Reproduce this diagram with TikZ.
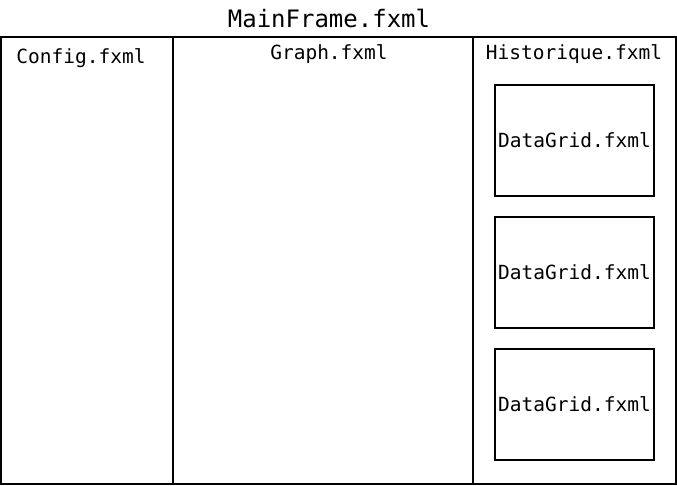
\documentclass[tikz,border=0pt]{standalone}
\usepackage{fontspec}
\setmonofont{DejaVu Sans Mono}
\begin{document}
\begin{tikzpicture}[x=1pt,y=-1pt,
  frame/.style={draw=black, line width=2pt, inner sep=0pt, outer sep=0pt},
  lbl/.style={font=\ttfamily\fontsize{19.5}{22}\selectfont, inner sep=0pt, anchor=center},
  big/.style={font=\ttfamily\fontsize{24}{28}\selectfont, inner sep=0pt, anchor=center}]
\useasboundingbox (0,0) rectangle (677,485);
% columns
\node[frame, minimum width=172pt, minimum height=447pt] (config) at (87,260.5) {};
\node[frame, minimum width=300pt, minimum height=447pt] (graph) at (323,260.5) {};
\node[frame, minimum width=203pt, minimum height=447pt] (hist) at (574.5,260.5) {};
% data grids
\node[frame, minimum width=159pt, minimum height=111pt] (dg1) at (574.5,140.5) {};
\node[frame, minimum width=159pt, minimum height=111pt] (dg2) at (574.5,272.5) {};
\node[frame, minimum width=159pt, minimum height=111pt] (dg3) at (574.5,404.5) {};
% labels
\node[big] (title) at (329,18) {MainFrame.fxml};
\node[lbl] (tconfig) at (81,58) {Config.fxml};
\node[lbl] (tgraph) at (329,54) {Graph.fxml};
\node[lbl] (thist) at (574,54) {Historique.fxml};
\node[lbl] at (dg1.center) (tdg1) {DataGrid.fxml};
\node[lbl] at (dg2.center) (tdg2) {DataGrid.fxml};
\node[lbl] at (dg3.center) (tdg3) {DataGrid.fxml};
\end{tikzpicture}
\end{document}
